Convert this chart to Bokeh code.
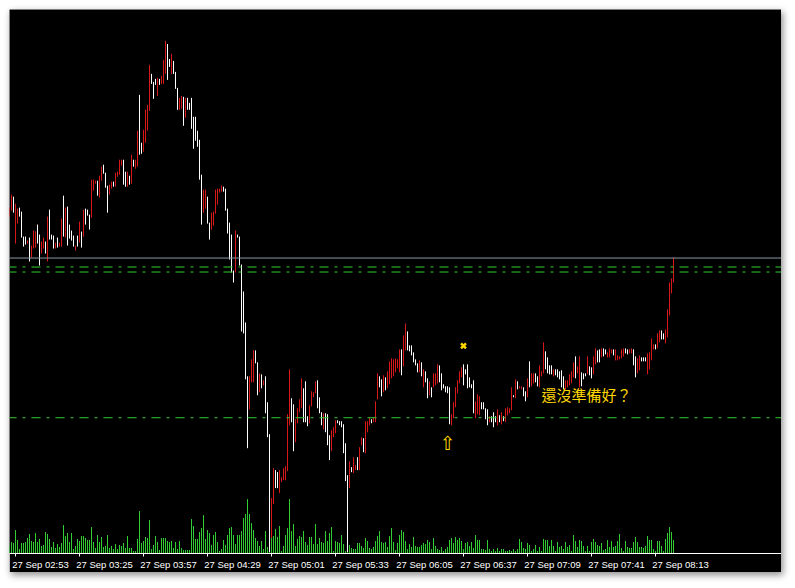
from bokeh.plotting import figure
from bokeh.models import Range1d, FixedTicker, ColumnDataSource, Span, LinearAxis
from bokeh.core.properties import value
from bokeh.embed import file_html
from bokeh.resources import INLINE

# ---- data: 1-minute bars, 27 Sep 02:50 .. 08:22 (price in points above chart base) ----
bar_dir = ("RRWRRWWWWR" "WRRRWWRRWR" "WWWRWRRWRW" "WWWRWRWRWW" "WRRRWRRWWW"
           "RRWRRRRWWR" "WRWRRWWRRR" "RWWWRWRRRW" "WRWWWRRWRW" "WWWWWWWRRW"
           "WRRRRRRWWW" "WWWRWWWWWW" "RRRWWRWRWW" "WRRWWRRRRR" "RWWRRRRWWW"
           "RRRRWWWRWW" "WRRRWWWWWW" "RWRRWRRWRR" "RWRRRWWRWR" "RRRRRRWRRW"
           "WWWWWRWRWW" "RWRRRWWWWW" "WRRRRRRWWW" "WWWRRRWWWW" "RWWWRWRWRR"
           "RRWRWRRWWR" "WRRWWRRRWW" "WWRWWWWWRR" "RRRWRRWWWR" "WWRRWWRWWR"
           "RRWRRRRRWW" "RRWWRRWWWR" "RRRWRRWWRR" "RRR")

bar_high = [346, 359, 357, 350, 345, 346, 342, 317, 317, 313,
            316, 308, 323, 322, 329, 319, 312, 316, 312, 337,
            344, 319, 318, 311, 316, 311, 335, 358, 346, 347,
            329, 323, 318, 308, 318, 332, 322, 344, 345, 344,
            339, 374, 374, 373, 373, 378, 387, 389, 381, 368,
            369, 372, 372, 381, 382, 394, 394, 394, 382, 382,
            378, 399, 394, 394, 423, 459, 411, 424, 444, 449,
            489, 480, 472, 475, 476, 475, 478, 494, 513, 510,
            495, 500, 493, 482, 466, 456, 458, 457, 456, 456,
            451, 456, 437, 437, 423, 414, 379, 364, 364, 357,
            331, 341, 342, 364, 365, 365, 368, 367, 365, 345,
            331, 319, 283, 323, 319, 317, 289, 262, 231, 177,
            177, 194, 203, 203, 191, 180, 179, 173, 177, 151,
            119, 55, 85, 83, 81, 83, 76, 85, 87, 139,
            184, 155, 149, 134, 145, 154, 175, 165, 172, 137,
            148, 162, 161, 172, 173, 156, 141, 140, 140, 139,
            118, 123, 126, 133, 133, 132, 132, 129, 110, 78,
            92, 86, 96, 88, 96, 106, 116, 115, 132, 132,
            135, 134, 136, 152, 180, 177, 174, 178, 176, 182,
            192, 195, 194, 195, 194, 204, 204, 218, 230, 222,
            208, 208, 201, 194, 190, 193, 191, 184, 182, 175,
            172, 166, 180, 180, 189, 188, 180, 169, 167, 167,
            166, 139, 151, 166, 173, 182, 186, 189, 184, 189,
            176, 169, 173, 152, 159, 157, 151, 151, 145, 144,
            137, 137, 141, 137, 144, 138, 141, 137, 145, 146,
            145, 166, 158, 174, 172, 167, 167, 166, 162, 175,
            192, 180, 180, 180, 177, 188, 182, 211, 202, 196,
            188, 188, 184, 184, 184, 182, 183, 177, 173, 173,
            179, 182, 191, 197, 187, 197, 181, 180, 180, 197,
            187, 186, 197, 205, 203, 204, 205, 205, 204, 201,
            205, 204, 204, 204, 198, 197, 204, 205, 205, 204,
            204, 205, 204, 197, 195, 198, 196, 196, 196, 200,
            201, 215, 209, 209, 220, 223, 223, 220, 224, 244,
            271, 275, 296]

bar_low = [337, 343, 341, 310, 330, 337, 316, 307, 309, 310,
           292, 296, 305, 306, 310, 288, 300, 305, 300, 292,
           314, 314, 305, 305, 306, 307, 307, 317, 316, 308,
           315, 313, 307, 303, 307, 311, 306, 317, 329, 338,
           324, 336, 363, 370, 358, 356, 373, 380, 366, 341,
           359, 365, 367, 367, 377, 379, 388, 369, 367, 367,
           369, 370, 387, 385, 387, 399, 400, 402, 411, 423,
           443, 470, 455, 469, 458, 469, 470, 470, 480, 474,
           487, 480, 480, 465, 444, 444, 445, 428, 436, 444,
           444, 425, 405, 413, 407, 374, 329, 341, 345, 330,
           314, 324, 328, 340, 349, 361, 362, 362, 343, 320,
           294, 281, 271, 281, 316, 288, 222, 220, 174, 105,
           144, 171, 171, 190, 158, 161, 165, 168, 140, 116,
           1, 15, 49, 65, 65, 60, 71, 73, 73, 82,
           128, 131, 102, 111, 130, 141, 145, 131, 131, 127,
           130, 147, 156, 160, 145, 140, 128, 124, 121, 108,
           93, 102, 116, 120, 130, 128, 126, 100, 72, 1,
           65, 81, 80, 83, 83, 83, 108, 101, 100, 121,
           128, 130, 131, 131, 154, 166, 157, 161, 163, 165,
           169, 175, 177, 181, 185, 181, 178, 187, 203, 203,
           202, 198, 191, 188, 181, 181, 177, 166, 171, 155,
           158, 156, 166, 168, 170, 171, 163, 165, 161, 160,
           129, 128, 135, 146, 160, 170, 176, 168, 179, 165,
           166, 165, 140, 135, 139, 138, 144, 144, 134, 128,
           131, 131, 126, 131, 128, 131, 129, 132, 131, 138,
           140, 143, 156, 155, 164, 165, 164, 157, 152, 156,
           166, 167, 170, 171, 167, 166, 177, 180, 184, 180,
           179, 179, 177, 178, 176, 174, 166, 164, 164, 166,
           168, 170, 176, 175, 180, 166, 167, 174, 177, 179,
           178, 175, 179, 189, 191, 191, 196, 197, 199, 196,
           196, 200, 198, 193, 193, 194, 195, 197, 200, 199,
           200, 200, 188, 176, 180, 183, 192, 192, 192, 179,
           184, 193, 204, 204, 205, 211, 214, 214, 210, 216,
           238, 260, 271]

tick_volume = [7, 11, 10, 23, 13, 4, 10, 10, 11, 15,
               19, 12, 11, 20, 11, 14, 7, 8, 21, 19,
               14, 6, 11, 5, 9, 6, 10, 28, 17, 20,
               11, 20, 4, 7, 14, 12, 17, 17, 15, 13,
               13, 26, 11, 5, 18, 11, 16, 6, 7, 18,
               5, 7, 4, 9, 4, 8, 7, 10, 5, 17,
               5, 5, 2, 2, 14, 42, 10, 12, 16, 15,
               33, 4, 8, 17, 11, 3, 15, 15, 15, 12,
               11, 12, 5, 11, 4, 12, 5, 3, 3, 3,
               3, 34, 27, 14, 14, 21, 25, 38, 14, 23,
               20, 8, 18, 21, 11, 2, 4, 13, 8, 18,
               25, 26, 18, 9, 18, 18, 22, 35, 39, 54,
               39, 30, 23, 15, 12, 7, 12, 4, 22, 6,
               12, 24, 17, 24, 16, 27, 2, 7, 18, 25,
               54, 22, 29, 7, 14, 17, 16, 22, 11, 8,
               16, 16, 9, 29, 9, 15, 11, 10, 22, 12,
               20, 26, 2, 12, 11, 10, 18, 9, 2, 30,
               8, 5, 4, 4, 10, 10, 7, 5, 15, 12,
               5, 4, 6, 12, 17, 22, 11, 10, 11, 6,
               17, 25, 11, 3, 10, 18, 23, 21, 12, 4,
               9, 6, 16, 7, 6, 6, 8, 10, 9, 13,
               11, 4, 15, 7, 4, 3, 6, 2, 4, 6,
               13, 15, 10, 16, 13, 15, 12, 4, 10, 11,
               7, 11, 5, 18, 13, 13, 4, 4, 3, 13,
               4, 2, 4, 2, 5, 2, 4, 4, 2, 2,
               3, 2, 4, 2, 4, 14, 11, 5, 4, 10,
               8, 2, 4, 8, 2, 6, 2, 14, 13, 13,
               7, 13, 7, 2, 11, 6, 7, 4, 11, 6,
               8, 2, 18, 12, 6, 13, 12, 7, 2, 7,
               2, 11, 14, 11, 8, 7, 10, 3, 4, 13,
               6, 12, 6, 7, 12, 19, 5, 2, 12, 6,
               5, 5, 11, 16, 11, 6, 6, 5, 7, 17,
               13, 13, 4, 2, 12, 12, 7, 2, 14, 20,
               26, 21, 13]

# time-axis ticks (bar index -> label)
tick_idx = [3, 35, 67, 99, 131, 163, 195, 227, 259, 291, 323]
tick_labels = ["27 Sep 02:53", "27 Sep 03:25", "27 Sep 03:57", "27 Sep 04:29",
               "27 Sep 05:01", "27 Sep 05:33", "27 Sep 06:05", "27 Sep 06:37",
               "27 Sep 07:09", "27 Sep 07:41", "27 Sep 08:13"]

# horizontal price levels
bid_level = 295.5
green_levels = [286.5, 281.5, 135.5]

# chart objects (bar index, price)
note_text = "還沒準備好？"
note_pos = (266, 158.5)
arrow_pos = (219, 110.5)
star_pos = (227, 207.5)

n = min(len(bar_high), len(bar_low), len(bar_dir), len(tick_volume))
idx = list(range(n))
UP_COLOR = "#d81818"
DN_COLOR = "#ffffff"
colors = [UP_COLOR if bar_dir[i] == "R" else DN_COLOR for i in idx]

bars = ColumnDataSource(dict(x=idx, hi=bar_high[:n], lo=bar_low[:n], c=colors,
                             vol=tick_volume[:n], zero=[0] * n))

X0, X1 = 0.0, 386.0
LABEL_SHIFT = 12.5  # labels start at their tick, so centre them half a label to the right

p = figure(width=772, height=563, output_backend="svg", toolbar_location=None,
           x_range=Range1d(X0, X1), y_range=Range1d(-0.5, 544.5),
           x_axis_location=None, y_axis_location=None,
           min_border_left=0, min_border_right=0, min_border_top=0, min_border_bottom=18,
           background_fill_color="black", border_fill_color="black",
           outline_line_color=None)
p.styles = {"margin-left": "9px", "margin-top": "9px",
            "box-shadow": "2px 3px 7px rgba(0,0,0,0.45)"}
p.grid.visible = False
p.extra_x_ranges = {"lab": Range1d(X0 - LABEL_SHIFT, X1 - LABEL_SHIFT)}

# volumes
p.segment(x0="x", y0="zero", x1="x", y1="vol", source=bars,
          line_color="#32cd32", line_width=1)
# price bars
p.segment(x0="x", y0="lo", x1="x", y1="hi", source=bars,
          line_color="c", line_width=1)

# levels
p.add_layout(Span(location=bid_level, dimension="width",
                  line_color="#8a98a8", line_width=1))
for lv in green_levels:
    p.add_layout(Span(location=lv, dimension="width", line_color="#32cd32",
                      line_width=1, line_dash="9 6 3 6", line_dash_offset=2))

# objects
p.text(x=[note_pos[0]], y=[note_pos[1]], text=[note_text],
       text_font=value("Noto Sans CJK TC"), text_font_size="15px",
       text_color="#ffd700", text_baseline="middle", text_align="left")
p.text(x=[arrow_pos[0]], y=[arrow_pos[1]], text=["⇧"],
       text_font=value("DejaVu Sans"), text_font_size="19px",
       text_color="#ffd700", text_baseline="middle", text_align="center")
p.scatter(x=[star_pos[0]], y=[star_pos[1]], marker="x", size=7,
          line_color="#ffd700", line_width=2.5)

# time axis: labels on the shifted range, tick marks (as minor ticks) at the true bars
ax = LinearAxis(x_range_name="lab")
ax.ticker = FixedTicker(ticks=tick_idx, minor_ticks=[t - LABEL_SHIFT for t in tick_idx])
ax.major_label_overrides = {t: l for t, l in zip(tick_idx, tick_labels)}
ax.major_label_text_color = "white"
ax.major_label_text_font = "Liberation Sans"
ax.major_label_text_font_size = "9.5px"
ax.major_label_standoff = 2
ax.axis_line_color = "white"
ax.major_tick_line_color = None
ax.major_tick_in = 0
ax.major_tick_out = 3
ax.minor_tick_line_color = "white"
ax.minor_tick_in = 0
ax.minor_tick_out = 3
p.add_layout(ax, "below")

open("out.html", "w").write(file_html(p, INLINE))
